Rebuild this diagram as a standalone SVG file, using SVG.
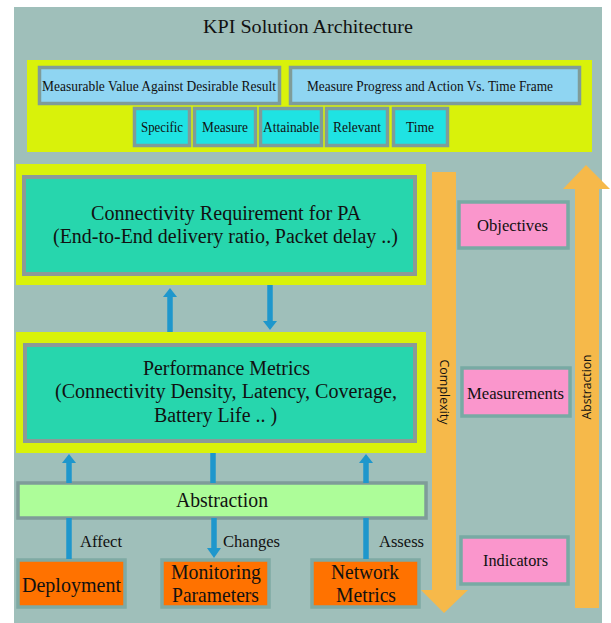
<svg xmlns="http://www.w3.org/2000/svg" width="611" height="623" viewBox="0 0 611 623">
<defs>
<style>
.serif{font-family:"Liberation Serif","Times New Roman",serif;fill:#111;text-anchor:middle}
.sans{font-family:"Open Sans","DejaVu Sans",sans-serif;fill:#111;text-anchor:middle}
.yel{fill:#d9f20a}
.blue{fill:#8fd5f2;stroke:#7f9c99;stroke-width:3.5}
.cyan{fill:#1fe3e3;stroke:#7f9c99;stroke-width:3.5}
.teal{fill:#27d6ad;stroke:#8c9a97;stroke-width:4}
.green{fill:#adfd99;stroke:#7f9c99;stroke-width:3.5}
.orange{fill:#ff7200;stroke:#7faaa4;stroke-width:3.5}
.pink{fill:#fa96cc;stroke:#78aaa4;stroke-width:3.5}
.conn{stroke:#1e97cc;stroke-width:5.5;fill:none}
.head{fill:#1e97cc}
.big{fill:#f6b94a}
</style>
</defs>
<rect x="0" y="0" width="611" height="623" fill="#ffffff"/>
<rect x="14" y="7" width="588" height="616" fill="#9fbfba"/>
<text class="serif" x="308" y="33" font-size="19" textLength="210" lengthAdjust="spacingAndGlyphs">KPI Solution Architecture</text>

<g id="smart-panel">
<rect class="yel" x="27" y="60" width="565" height="92"/>
</g>
<g id="measurable-value">
<rect class="blue" x="39.5" y="67.5" width="240" height="36"/>
<text class="serif" x="159" y="91" font-size="15" textLength="234" lengthAdjust="spacingAndGlyphs">Measurable Value Against Desirable Result</text>
</g>
<g id="measure-progress">
<rect class="blue" x="290.5" y="67.5" width="289" height="36"/>
<text class="serif" x="430" y="91" font-size="15" textLength="246" lengthAdjust="spacingAndGlyphs">Measure Progress and Action Vs. Time Frame</text>
</g>
<g id="specific">
<rect class="cyan" x="134.5" y="108.5" width="55" height="37"/>
<text class="serif" x="162" y="132" font-size="14" textLength="42" lengthAdjust="spacingAndGlyphs">Specific</text>
</g>
<g id="measure">
<rect class="cyan" x="194.5" y="108.5" width="61" height="37"/>
<text class="serif" x="225" y="132" font-size="14" textLength="46" lengthAdjust="spacingAndGlyphs">Measure</text>
</g>
<g id="attainable">
<rect class="cyan" x="260.5" y="108.5" width="61" height="37"/>
<text class="serif" x="291" y="132" font-size="14" textLength="56" lengthAdjust="spacingAndGlyphs">Attainable</text>
</g>
<g id="relevant">
<rect class="cyan" x="326.5" y="108.5" width="61" height="37"/>
<text class="serif" x="357" y="132" font-size="14" textLength="48" lengthAdjust="spacingAndGlyphs">Relevant</text>
</g>
<g id="time">
<rect class="cyan" x="393.5" y="108.5" width="54" height="37"/>
<text class="serif" x="420" y="132" font-size="14" textLength="28" lengthAdjust="spacingAndGlyphs">Time</text>
</g>

<g id="connectivity-requirement">
<rect class="yel" x="16" y="164" width="410" height="121"/>
<rect class="teal" x="24" y="177" width="391" height="97"/>
<text class="serif" x="226" y="220" font-size="20" textLength="270" lengthAdjust="spacingAndGlyphs">Connectivity Requirement for PA</text>
<text class="serif" x="225.5" y="243" font-size="20" textLength="345" lengthAdjust="spacingAndGlyphs">(End-to-End delivery ratio, Packet delay ..)</text>
</g>

<g id="performance-metrics">
<rect class="yel" x="16" y="332" width="410" height="121"/>
<rect class="teal" x="25" y="345" width="390" height="96"/>
<text class="serif" x="226.5" y="375" font-size="20" textLength="167" lengthAdjust="spacingAndGlyphs">Performance Metrics</text>
<text class="serif" x="226" y="398" font-size="20" textLength="342" lengthAdjust="spacingAndGlyphs">(Connectivity Density, Latency, Coverage,</text>
<text class="serif" x="215.5" y="422" font-size="20" textLength="123" lengthAdjust="spacingAndGlyphs">Battery Life .. )</text>
</g>

<g id="abstraction-box">
<rect class="green" x="18" y="483" width="408" height="35"/>
<text class="serif" x="222" y="507" font-size="20" textLength="92" lengthAdjust="spacingAndGlyphs">Abstraction</text>
</g>

<g id="deployment">
<rect class="orange" x="18" y="560" width="107" height="47"/>
<text class="serif" x="71.5" y="592" font-size="22" textLength="99" lengthAdjust="spacingAndGlyphs">Deployment</text>
</g>
<g id="monitoring-parameters">
<rect class="orange" x="162" y="560" width="107" height="47"/>
<text class="serif" x="216" y="579" font-size="21" textLength="90" lengthAdjust="spacingAndGlyphs">Monitoring</text>
<text class="serif" x="215.5" y="602" font-size="21" textLength="87" lengthAdjust="spacingAndGlyphs">Parameters</text>
</g>
<g id="network-metrics">
<rect class="orange" x="312" y="560" width="107" height="47"/>
<text class="serif" x="365" y="579" font-size="21" textLength="68" lengthAdjust="spacingAndGlyphs">Network</text>
<text class="serif" x="366" y="602" font-size="21" textLength="60" lengthAdjust="spacingAndGlyphs">Metrics</text>
</g>

<g id="objectives">
<rect class="pink" x="459" y="202" width="109" height="46"/>
<text class="serif" x="512.5" y="231" font-size="17" textLength="71" lengthAdjust="spacingAndGlyphs">Objectives</text>
</g>
<g id="measurements">
<rect class="pink" x="462" y="368" width="108" height="48"/>
<text class="serif" x="515.5" y="399" font-size="17" textLength="97" lengthAdjust="spacingAndGlyphs">Measurements</text>
</g>
<g id="indicators">
<rect class="pink" x="461" y="537" width="107" height="47"/>
<text class="serif" x="515.5" y="566" font-size="17" textLength="65" lengthAdjust="spacingAndGlyphs">Indicators</text>
</g>

<g id="complexity-arrow">
<polygon class="big" points="432,172 456,172 456,590 468,590 444,613 421,590 432,590"/>
<text class="sans" font-size="13" transform="translate(440,392) rotate(90)" textLength="65" lengthAdjust="spacingAndGlyphs">Complexity</text>
</g>
<g id="abstraction-arrow">
<polygon class="big" points="575,608 599,608 599,189 610,189 586,165 563,189 575,189"/>
<text class="sans" font-size="13" transform="translate(591,387) rotate(-90)" textLength="65" lengthAdjust="spacingAndGlyphs">Abstraction</text>
</g>

<g id="connectors">
<line class="conn" x1="170" y1="332" x2="170" y2="296"/>
<polygon class="head" points="163,297 177,297 170,288"/>
<line class="conn" x1="270" y1="285" x2="270" y2="322"/>
<polygon class="head" points="263,321 277,321 270,330"/>
<line class="conn" x1="69" y1="483" x2="69" y2="462"/>
<polygon class="head" points="62,463 76,463 69,454"/>
<line class="conn" x1="213" y1="483" x2="213" y2="453"/>
<line class="conn" x1="366" y1="483" x2="366" y2="462"/>
<polygon class="head" points="359,463 373,463 366,454"/>
<line class="conn" x1="69" y1="559" x2="69" y2="518"/>
<line class="conn" x1="214" y1="518" x2="214" y2="549"/>
<polygon class="head" points="207,548 221,548 214,558"/>
<line class="conn" x1="366" y1="559" x2="366" y2="518"/>
<text class="serif" x="101" y="547" font-size="16" textLength="42" lengthAdjust="spacingAndGlyphs">Affect</text>
<text class="serif" x="251.5" y="547" font-size="16" textLength="57" lengthAdjust="spacingAndGlyphs">Changes</text>
<text class="serif" x="401.5" y="547" font-size="16" textLength="45" lengthAdjust="spacingAndGlyphs">Assess</text>
</g>
</svg>
